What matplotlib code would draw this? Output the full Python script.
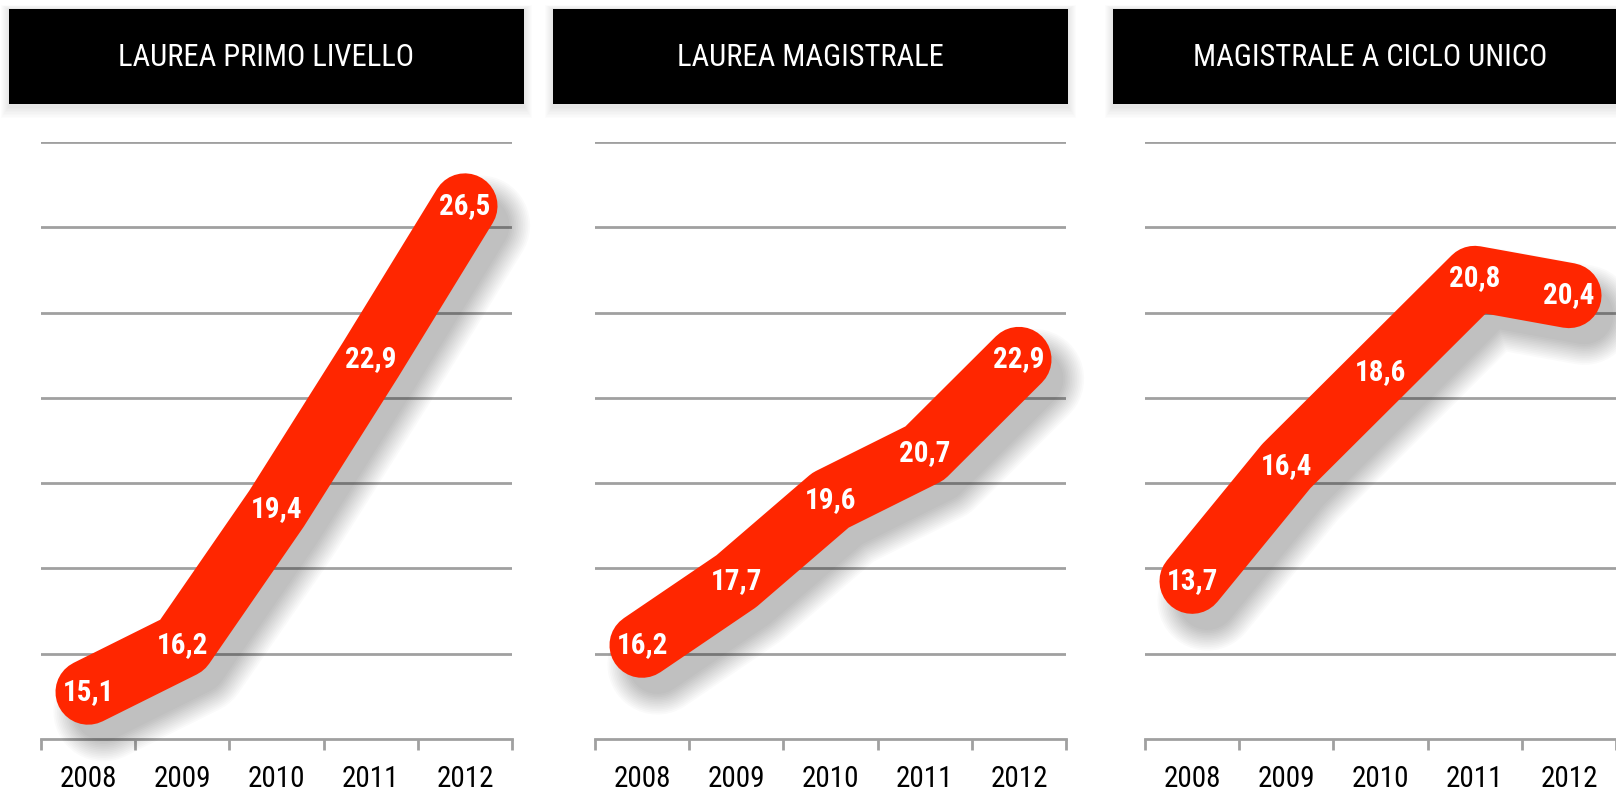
import matplotlib
matplotlib.use('Agg')
import matplotlib.pyplot as plt
import matplotlib.patheffects as pe
from matplotlib import font_manager
from matplotlib.patches import Rectangle

# dati
years = ['2008', '2009', '2010', '2011', '2012']
titles = ['LAUREA PRIMO LIVELLO', 'LAUREA MAGISTRALE', 'MAGISTRALE A CICLO UNICO']
primo_livello = [15.1, 16.2, 19.4, 22.9, 26.5]
magistrale = [16.2, 17.7, 19.6, 20.7, 22.9]
ciclo_unico = [13.7, 16.4, 18.6, 20.8, 20.4]
series = [primo_livello, magistrale, ciclo_unico]
y_min = [14, 14, 10]
y_max = [28, 28, 24]

RED = '#ff2600'
GRID = '#a0a0a0'

# font stretto se disponibile
names = {f.name for f in font_manager.fontManager.ttflist}
narrow = 'DejaVu Sans'
for n in ['Roboto Condensed', 'Liberation Sans Narrow', 'Open Sans Condensed', 'Noto Sans Condensed']:
    if n in names:
        narrow = n
        break

W, H = 1616, 797
fig = plt.figure(figsize=(W / 100, H / 100), dpi=100)
fig.patch.set_facecolor('white')

ax_left = [41, 595, 1145]
box_left = [9, 553, 1113]
ax_w = 471
box_w = 515

lw = 47

for k in range(3):
    # box titolo con ombra leggera
    for s in range(8, 0, -1):
        fig.add_artist(Rectangle(((box_left[k] - s) / W, (797 - 106 - s * 1.5) / H),
                                 (box_w + 2 * s) / W, (97 + 2 * s) / H,
                                 transform=fig.transFigure, facecolor='black',
                                 alpha=0.01, edgecolor='none'))
    fig.add_artist(Rectangle((box_left[k] / W, (797 - 104) / H), box_w / W, 95 / H,
                             transform=fig.transFigure, facecolor='black', edgecolor='none'))
    fig.text((box_left[k] + box_w / 2) / W, (797 - 57) / H, titles[k], color='white',
             ha='center', va='center', fontsize=22, family=narrow, fontstretch='condensed')

    ax = fig.add_axes([ax_left[k] / W, 58 / H, ax_w / W, (739 - 142) / H])
    ax.set_xlim(-0.5, 4.5)
    ax.set_ylim(y_min[k], y_max[k])
    for sp in ['top', 'right', 'left']:
        ax.spines[sp].set_visible(False)
    ax.spines['bottom'].set_color(GRID)
    ax.spines['bottom'].set_linewidth(2)
    ax.set_yticks(range(y_min[k] + 2, y_max[k] + 1, 2))
    ax.tick_params(axis='y', length=0, labelleft=False)
    ax.yaxis.grid(True, color=GRID, linewidth=2)
    ax.set_axisbelow(True)

    x = list(range(len(years)))
    ax.set_xticks(x)
    ax.set_xticklabels(years)
    ax.set_xticks([i - 0.5 for i in range(len(years) + 1)], minor=True)
    ax.tick_params(axis='x', which='major', length=0, pad=19)
    ax.tick_params(axis='x', which='minor', length=8, width=2, color=GRID, direction='out')
    for lab in ax.get_xticklabels():
        lab.set_fontsize(21)
        lab.set_family(narrow)
        lab.set_fontstretch('condensed')
        lab.set_color('black')

    # ombra sfumata sotto la linea
    shadow = [pe.SimpleLineShadow(offset=(11, -14), shadow_color='black',
                                  alpha=0.018, linewidth=lw + 2.5 * j) for j in range(10, -3, -1)]
    line, = ax.plot(x, series[k], color=RED, linewidth=lw, solid_capstyle='round',
                    solid_joinstyle='round', clip_on=False, zorder=3)
    line.set_path_effects(shadow + [pe.Normal()])

    for i, v in enumerate(series[k]):
        ax.text(i, v, f'{v:.1f}'.replace('.', ','), color='white', fontsize=21,
                fontweight='bold', family=narrow, fontstretch='condensed',
                ha='center', va='center', zorder=5, clip_on=False)

fig.savefig('out.png', dpi=100, facecolor='white')
